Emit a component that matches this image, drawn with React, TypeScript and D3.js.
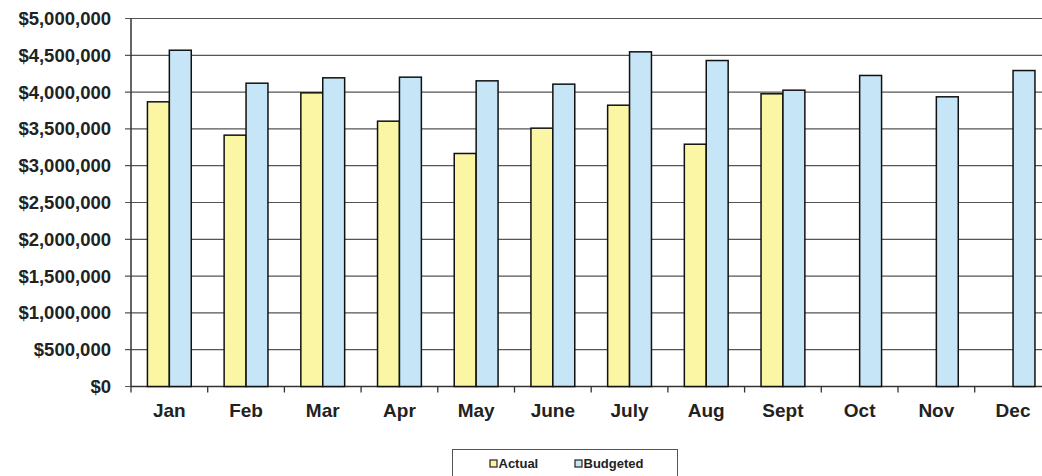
import React from "react";
import * as d3 from "d3";

const months = ["Jan", "Feb", "Mar", "Apr", "May", "June", "July", "Aug", "Sept", "Oct", "Nov", "Dec"];
const actual: (number | null)[] = [3868000, 3415000, 3990000, 3605000, 3166000, 3510000, 3822000, 3292000, 3977000, null, null, null];
const budgeted: number[] = [4569000, 4121000, 4194000, 4203000, 4153000, 4108000, 4547000, 4429000, 4026000, 4226000, 3936000, 4293000];
const yTicks = [0, 500000, 1000000, 1500000, 2000000, 2500000, 3000000, 3500000, 4000000, 4500000, 5000000];
const seriesNames = ["Actual", "Budgeted"];
const seriesColors = ["#FAF6A4", "#C6E5F6"];

export default function App() {
  const W = 1042, H = 476;
  const left = 131, top = 18.5, bottom = 386.5;
  const catW = 76.7;
  const right = left + catW * 12;
  const font = "'Liberation Sans', Arial, sans-serif";

  const x = d3.scaleBand<string>().domain(months).range([left, right]).paddingInner(0).paddingOuter(0);
  const y = d3.scaleLinear().domain([0, 5000000]).range([bottom, top]);
  const bw = x.bandwidth() / 3.5;
  const off = x.bandwidth() * 0.75 / 3.5;
  const fmt = (v: number) => "$" + d3.format(",")(v);

  return (
    <svg width={W} height={H} style={{ position: "absolute", left: 0, top: 0, background: "#fff" }} fontFamily={font}>
      {yTicks.map((t) => (
        <g key={t}>
          <line x1={left - 6} x2={W} y1={y(t)} y2={y(t)} stroke="#555" strokeWidth={1.2} />
          <text x={111} y={y(t)} dy="0.35em" textAnchor="end" fontSize={18.5} fontWeight="bold" fill="#222">{fmt(t)}</text>
        </g>
      ))}
      <line x1={left} x2={left} y1={top} y2={bottom} stroke="#333" strokeWidth={1.5} />
      <line x1={left} x2={W} y1={bottom} y2={bottom} stroke="#333" strokeWidth={1.5} />
      {months.map((m) => (
        <line key={"t" + m} x1={x(m)!} x2={x(m)!} y1={bottom} y2={bottom + 6} stroke="#333" strokeWidth={1.3} />
      ))}
      {months.map((m, i) => {
        const x0 = x(m)! + off;
        const a = actual[i];
        const b = budgeted[i];
        return (
          <g key={m}>
            {a != null && (
              <rect x={x0} y={y(a)} width={bw} height={bottom - y(a)} fill={seriesColors[0]} stroke="#111" strokeWidth={1.5} />
            )}
            <rect x={x0 + bw} y={y(b)} width={bw} height={bottom - y(b)} fill={seriesColors[1]} stroke="#111" strokeWidth={1.5} />
            <text x={x(m)! + x.bandwidth() / 2} y={416.5} textAnchor="middle" fontSize={19} fontWeight="bold" fill="#222">{m}</text>
          </g>
        );
      })}
      <rect x={452.5} y={449.5} width={225} height={40} fill="#fff" stroke="#555" strokeWidth={1} />
      {seriesNames.map((s, i) => {
        const lx = i === 0 ? 490 : 575;
        return (
          <g key={s}>
            <rect x={lx} y={460} width={7} height={7} fill={seriesColors[i]} stroke="#222" strokeWidth={1.2} />
            <text x={lx + 8.5} y={463.5} dy="0.35em" fontSize={13} fontWeight="bold" fill="#222">{s}</text>
          </g>
        );
      })}
    </svg>
  );
}
